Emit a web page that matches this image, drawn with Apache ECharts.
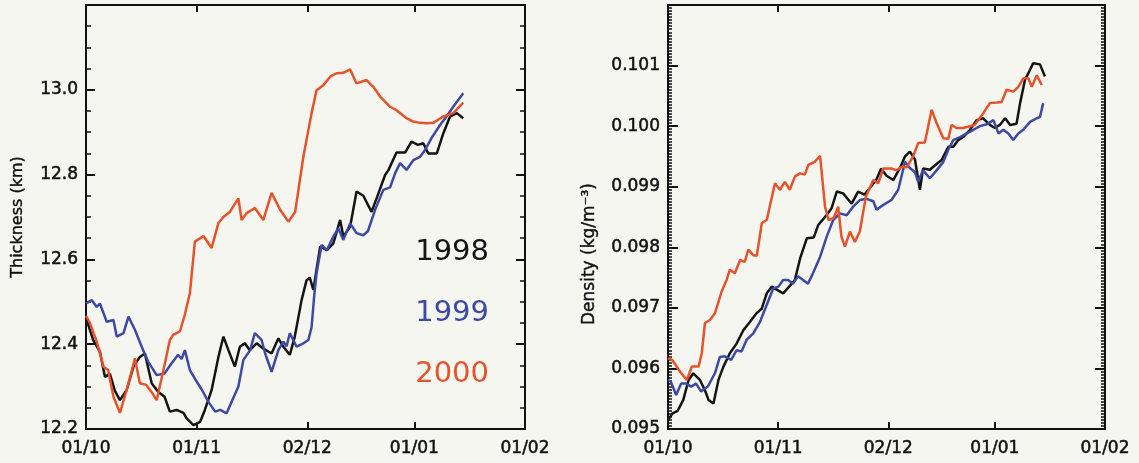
<!DOCTYPE html>
<html>
<head>
<meta charset="utf-8">
<script src="https://cdn.jsdelivr.net/npm/echarts@6/dist/echarts.min.js"></script>
<style>
  html, body { margin: 0; padding: 0; background: #f6f6f1; }
  #chart { width: 1139px; height: 463px; }
</style>
</head>
<body>
<div id="chart"></div>
<script>
// Day offsets from 1 October and the month labels placed on them
const tickDays = [0, 31, 62, 92, 123];
const tickLabels = ['01/10', '01/11', '02/12', '01/01', '01/02'];
const years = ['1998', '1999', '2000'];
const yearColors = ['#141414', '#3c4aa3', '#e6532a'];

// Tropopause thickness (km): [day, value]
const thick1998 = [[0,12.462],[2,12.41],[3.9,12.382],[5.3,12.323],[6.7,12.33],[8.1,12.29],[9.5,12.268],[11.4,12.292],[13.3,12.347],[15.1,12.37],[16.5,12.378],[18.4,12.308],[20.2,12.288],[22,12.276],[23.5,12.241],[25.4,12.245],[27.3,12.238],[28.2,12.225],[30.1,12.209],[32,12.217],[33.3,12.245],[35.2,12.292],[37.1,12.37],[38.5,12.418],[39.9,12.386],[41.7,12.347],[43.1,12.394],[44.5,12.402],[45.9,12.386],[47.8,12.402],[49.6,12.39],[52,12.378],[53.9,12.414],[55.3,12.394],[57.1,12.375],[58.5,12.418],[60.4,12.504],[61.8,12.551],[62.7,12.557],[63.7,12.528],[65.6,12.63],[67.5,12.622],[69.3,12.638],[71.2,12.693],[72.1,12.654],[74,12.677],[75.8,12.76],[77.7,12.75],[80,12.712],[81.6,12.748],[83.8,12.799],[84.7,12.81],[87,12.852],[89.4,12.852],[91.2,12.878],[93,12.87],[94.5,12.874],[95.9,12.85],[98.3,12.85],[100.1,12.897],[102,12.937],[103.9,12.945],[105.7,12.933]];
const thick1999 = [[0,12.496],[1.6,12.504],[3,12.488],[3.9,12.496],[5.8,12.453],[7.7,12.457],[8.6,12.418],[10.5,12.426],[11.9,12.465],[13.7,12.434],[15.6,12.394],[17.4,12.359],[19.8,12.327],[22,12.331],[24,12.355],[25.8,12.375],[26.8,12.365],[27.7,12.386],[29.1,12.339],[31,12.312],[32.5,12.292],[34.3,12.264],[36.2,12.241],[37.6,12.245],[39.4,12.237],[40.8,12.264],[42.7,12.3],[44.1,12.363],[46,12.386],[47.3,12.426],[49.2,12.41],[50.2,12.378],[52,12.335],[53.9,12.386],[55.3,12.406],[56.2,12.395],[57.1,12.426],[59,12.394],[60.5,12.4],[62.3,12.41],[63.2,12.44],[64,12.52],[64.6,12.567],[66,12.634],[67.5,12.622],[69.3,12.654],[70.7,12.673],[72.1,12.646],[74,12.685],[75.8,12.662],[77.7,12.657],[79,12.667],[81,12.717],[83.3,12.764],[85.2,12.77],[86.6,12.803],[88,12.827],[89.8,12.811],[91.7,12.834],[93.6,12.842],[95,12.858],[96.8,12.886],[99.2,12.917],[101,12.937],[102.9,12.96],[105.7,12.992]];
const thick2000 = [[0,12.467],[1.1,12.45],[3,12.406],[4.9,12.347],[6.2,12.339],[7.7,12.276],[9.5,12.238],[11.4,12.292],[13.7,12.367],[15.1,12.308],[16.9,12.304],[18.3,12.288],[19.8,12.268],[21.7,12.339],[23.5,12.41],[24.4,12.422],[26.3,12.43],[27.7,12.47],[29.1,12.52],[30.5,12.642],[32.9,12.655],[35.2,12.627],[37.1,12.686],[38.5,12.7],[40.3,12.712],[42.7,12.744],[43.6,12.693],[45,12.709],[47.3,12.721],[49.7,12.693],[52,12.757],[54.4,12.717],[56.7,12.689],[58.6,12.712],[60.9,12.842],[63.2,12.945],[64.6,12.999],[66.5,13.011],[68.4,13.031],[70.2,13.039],[72.1,13.04],[74,13.048],[75.8,13.015],[78.6,13.023],[80.5,13.007],[82.4,12.984],[85.2,12.96],[87,12.952],[89.8,12.933],[91.7,12.925],[93.6,12.922],[95.4,12.921],[97.3,12.922],[100.1,12.937],[102.9,12.945],[105.7,12.97]];

// Tropopause density (kg/m3): [day, value]
const dens1998 = [[0,0.09515],[1.3,0.09526],[2.7,0.0953],[4.3,0.09548],[5.8,0.09581],[7.1,0.09592],[9,0.09581],[10.4,0.09564],[11.4,0.09548],[12.8,0.09542],[14.2,0.09581],[15.6,0.09603],[17.4,0.09625],[19.3,0.09641],[21.2,0.09663],[23.1,0.09677],[24.9,0.09691],[26.4,0.09699],[27.8,0.09724],[29.2,0.09735],[30.6,0.0973],[32.4,0.09724],[33.8,0.09733],[35.7,0.09746],[37.2,0.09782],[39.1,0.09815],[41,0.09816],[42.3,0.09837],[44.2,0.0985],[46,0.09864],[47.5,0.09892],[49.3,0.09889],[51.7,0.09872],[53.5,0.09892],[55.3,0.09887],[56.7,0.09897],[58.6,0.09911],[60,0.0993],[61.5,0.09918],[63.4,0.09911],[65.3,0.09931],[66.7,0.0995],[68.1,0.09958],[69.5,0.09945],[70.9,0.09895],[71.8,0.0993],[73.7,0.09928],[75.1,0.09935],[77,0.09944],[78.9,0.09966],[80.3,0.09966],[81.7,0.09977],[83.1,0.09982],[85,0.09994],[86.9,0.1001],[88.7,0.10013],[90.6,0.10002],[92,0.09997],[93.4,0.10002],[94.9,0.10013],[96.3,0.10002],[98.1,0.10004],[99.1,0.10038],[100.5,0.10077],[101.4,0.10087],[102.8,0.10104],[104.7,0.10102],[106.1,0.10082]];
const dens1999 = [[0,0.09581],[0.8,0.09578],[2.3,0.09556],[3.7,0.09575],[5.1,0.09575],[6.5,0.0957],[7.9,0.09575],[9.3,0.09562],[11.2,0.0957],[13.2,0.09592],[14.6,0.09619],[16,0.0962],[17.8,0.09614],[19.3,0.0963],[20.7,0.09628],[22.1,0.09647],[24,0.09658],[25.9,0.09677],[27.8,0.09705],[29.6,0.09732],[31.1,0.09735],[32.4,0.09746],[33.8,0.09746],[35.2,0.0974],[36.6,0.09752],[38,0.09746],[39.4,0.0974],[40.8,0.09757],[42.8,0.09784],[44.7,0.09818],[46.5,0.09845],[48.4,0.09856],[50.3,0.09853],[52.1,0.09867],[54,0.09878],[55.9,0.0988],[57.8,0.09876],[58.7,0.09862],[60.6,0.0987],[62.9,0.09878],[64.8,0.09895],[66.7,0.09941],[68.1,0.09931],[69.5,0.09924],[70.4,0.09908],[71.8,0.09927],[73.7,0.09914],[75.6,0.09927],[77.5,0.09941],[78.9,0.09961],[80.3,0.09977],[82.2,0.09982],[84.1,0.09988],[86,0.09994],[87.8,0.1],[89.7,0.10003],[91.6,0.1001],[93,0.09988],[94.4,0.09994],[95.8,0.09988],[97.2,0.09977],[98.6,0.09988],[100,0.09994],[101.9,0.10007],[103.8,0.10013],[104.7,0.10015],[105.6,0.10038]];
const dens2000 = [[0,0.096167],[1.2,0.09614],[3.4,0.095946],[5.3,0.095809],[6.7,0.09603],[8.6,0.09603],[9.5,0.09625],[10.4,0.09675],[11.8,0.0968],[13.2,0.09691],[15.1,0.09727],[16.5,0.09746],[17.4,0.09763],[18.8,0.09757],[20.3,0.09779],[21.6,0.09776],[22.6,0.09796],[24,0.09787],[25,0.09786],[26.4,0.0984],[27.8,0.09845],[30.1,0.099056],[31.5,0.09895],[32.9,0.09908],[34.3,0.09895],[35.7,0.099166],[37.1,0.09922],[38.5,0.0992],[39.5,0.09936],[41.3,0.09941],[42.8,0.09951],[44.2,0.09867],[45.2,0.09845],[46.6,0.09848],[47.9,0.09867],[48.8,0.09818],[49.8,0.09801],[51.2,0.09826],[52.6,0.09809],[54,0.09826],[55.7,0.09884],[57.8,0.09911],[59.2,0.09906],[60.6,0.0993],[62.9,0.0993],[64.3,0.09927],[65.8,0.09933],[67.2,0.09932],[69,0.0995],[70.4,0.09972],[72.3,0.09973],[74.2,0.10027],[75.6,0.10005],[77.5,0.0998],[78.9,0.09979],[79.8,0.10002],[81.2,0.09997],[83,0.09997],[84.4,0.09999],[86.3,0.10002],[88.7,0.10021],[90.6,0.10038],[92.5,0.10039],[93.9,0.1004],[95.3,0.1006],[97.2,0.10057],[98.6,0.10065],[100,0.10079],[101.4,0.10079],[102.4,0.10065],[103.8,0.10084],[105.2,0.10068]];

const FONT = 'DejaVu Sans';
const INK = '#111111';
// a thin outline of the same colour gives the printed, slightly heavy lettering
const heavy = { textBorderColor: INK, textBorderWidth: 0.5 };
// every axis stays on its own edge of the frame
const edgeLine = { show: true, onZero: false, lineStyle: { color: INK, width: 2 } };

const chart = echarts.init(document.getElementById('chart'), null, { renderer: 'canvas' });

function xAxes(gridIndex) {
  const base = {
    gridIndex, type: 'value', min: 0, max: 123,
    splitLine: { show: false },
    axisLine: edgeLine
  };
  return [
    Object.assign({}, base, {
      position: 'bottom',
      axisTick: { show: true, inside: true, length: 7, lineStyle: { color: INK, width: 2 }, customValues: tickDays },
      axisLabel: Object.assign({
        show: true, customValues: tickDays, margin: 11,
        fontFamily: FONT, fontSize: 17, color: INK,
        formatter: (v) => tickLabels[tickDays.indexOf(Math.round(v))] || ''
      }, heavy)
    }),
    Object.assign({}, base, {
      position: 'top',
      axisTick: { show: true, inside: true, length: 7, lineStyle: { color: INK, width: 2 }, customValues: tickDays },
      axisLabel: { show: false }
    })
  ];
}

function yAxes(gridIndex, min, max, interval, minorSplit, digits, majorLen, minorLen) {
  const base = {
    gridIndex, type: 'value', min, max, interval,
    splitLine: { show: false },
    axisLine: edgeLine,
    axisTick: { show: true, inside: true, length: majorLen, lineStyle: { color: INK, width: 2 } },
    minorTick: { show: true, splitNumber: minorSplit, length: minorLen, lineStyle: { color: INK, width: 1.5 } },
    minorSplitLine: { show: false }
  };
  return [
    Object.assign({}, base, {
      position: 'left',
      axisLabel: Object.assign({
        show: true, margin: 8, showMaxLabel: false,
        fontFamily: FONT, fontSize: 17, color: INK,
        formatter: (v) => v.toFixed(digits)
      }, heavy)
    }),
    Object.assign({}, base, { position: 'right', axisLabel: { show: false } })
  ];
}

const thickSets = [thick1998, thick1999, thick2000];
const densSets = [dens1998, dens1999, dens2000];

function lineSeries(sets, xIndex, yIndex) {
  return sets.map((data, i) => ({
    name: years[i], type: 'line', data,
    xAxisIndex: xIndex, yAxisIndex: yIndex,
    showSymbol: false, symbol: 'none', smooth: false,
    lineStyle: { color: yearColors[i], width: 2.5 },
    itemStyle: { color: yearColors[i] },
    z: 3 + i, animation: false
  }));
}

chart.setOption({
  backgroundColor: '#f6f6f1',
  animation: false,
  grid: [
    { left: 86, top: 5, width: 439, height: 424 },
    { left: 668, top: 5, width: 437, height: 424 }
  ],
  xAxis: [...xAxes(0), ...xAxes(1)],
  yAxis: [
    ...yAxes(0, 12.2, 13.2, 0.2, 4, 1, 9, 5),
    ...yAxes(1, 0.095, 0.102, 0.001, 20, 3, 10, 4)
  ],
  series: [
    ...lineSeries(thickSets, 0, 0),
    ...lineSeries(densSets, 2, 2)
  ],
  graphic: [
    {
      type: 'text', x: 18, y: 217, rotation: Math.PI / 2,
      style: { text: 'Thickness (km)', fontFamily: FONT, fontSize: 16, fill: INK, align: 'center', verticalAlign: 'middle', stroke: INK, lineWidth: 0.4 }
    },
    {
      type: 'text', x: 590, y: 254, rotation: Math.PI / 2,
      style: { text: 'Density (kg/m⁻³)', fontFamily: FONT, fontSize: 17, fill: INK, align: 'center', verticalAlign: 'middle', stroke: INK, lineWidth: 0.4 }
    },
    ...years.map((y, i) => ({
      type: 'text', x: 489, y: 252 + i * 61,
      style: { text: y, fontFamily: FONT, fontSize: 29, fill: yearColors[i], align: 'right', verticalAlign: 'middle' }
    }))
  ]
});
</script>
</body>
</html>
